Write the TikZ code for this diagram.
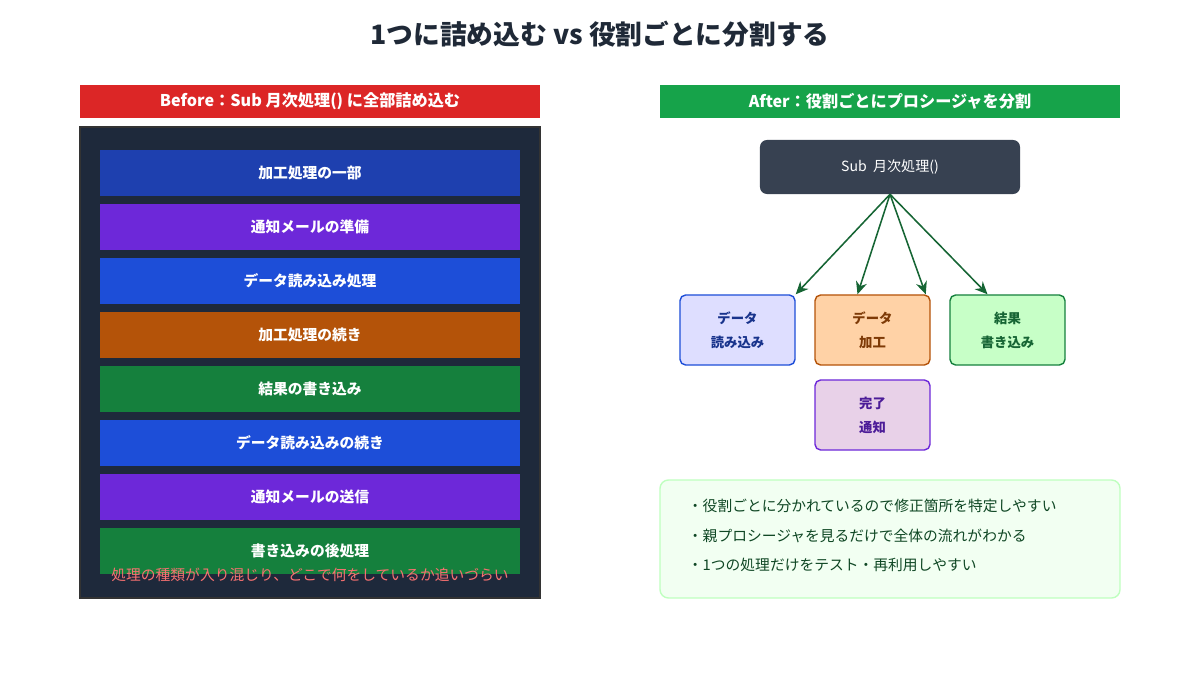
\documentclass[tikz,border=0pt]{standalone}
\usepackage{fontspec}
\setmainfont{Noto Sans CJK JP}
\usetikzlibrary{arrows.meta,positioning,calc}
\definecolor{titlegray}{RGB}{31,41,55}
\definecolor{beforered}{RGB}{220,38,38}
\definecolor{aftergreen}{RGB}{22,163,74}
\definecolor{panelbg}{RGB}{30,41,59}
\definecolor{bardeep}{RGB}{30,64,175}
\definecolor{barblue}{RGB}{29,78,216}
\definecolor{barpurple}{RGB}{109,40,217}
\definecolor{barorange}{RGB}{180,83,9}
\definecolor{bargreen}{RGB}{21,128,61}
\definecolor{subgray}{RGB}{55,65,81}
\definecolor{arrowgreen}{RGB}{22,101,52}
\definecolor{warnred}{RGB}{248,113,113}
\tikzset{
  % 見出し帯
  header/.style={minimum width=11.5cm, minimum height=0.825cm, inner sep=0pt,
    text=white, font=\fontsize{11.5}{13}\selectfont\bfseries},
  % 左側の処理バー
  bar/.style={minimum width=10.5cm, minimum height=1.15cm, inner sep=0pt,
    text=white, font=\fontsize{10.5}{12}\selectfont\bfseries},
  % 右側の子プロシージャ
  proc/.style={draw, line width=1pt, rounded corners=4pt, minimum width=2.875cm,
    minimum height=1.75cm, align=center, font=\fontsize{9.5}{17}\selectfont\bfseries},
  % 矢印
  arr/.style={-{Stealth[length=9pt,width=8pt]}, line width=1.1pt, arrowgreen},
  note/.style={anchor=west, text=arrowgreen!70!black, font=\fontsize{10.5}{12}\selectfont},
}
\begin{document}
\begin{tikzpicture}[x=0.025cm, y=-0.025cm]
  \useasboundingbox (0,0) rectangle (1200,675);

  % タイトル
  \node[text=titlegray, font=\fontsize{19}{22}\selectfont\bfseries] (title) at (600,34)
    {1つに詰め込む vs 役割ごとに分割する};

  % Before
  \node[header, fill=beforered] (beforehd) at (310,101.5) {Before：Sub 月次処理() に全部詰め込む};
  \fill[panelbg] (80,127) rectangle (540,598);
  \draw[black!80, line width=0.8pt] (80,127) rectangle (540,598);
  \foreach \y/\c/\t in {173/bardeep/加工処理の一部, 227/barpurple/通知メールの準備,
      281/barblue/データ読み込み処理, 335/barorange/加工処理の続き,
      389/bargreen/結果の書き込み, 443/barblue/データ読み込みの続き,
      497/barpurple/通知メールの送信, 551/bargreen/書き込みの後処理} {
    \node[bar, fill=\c] at (310,\y) {\t};
  }
  \node[text=warnred, font=\fontsize{10.5}{12}\selectfont] (warn) at (310,575)
    {処理の種類が入り混じり、どこで何をしているか追いづらい};

  % After
  \node[header, fill=aftergreen] (afterhd) at (890,101.5) {After：役割ごとにプロシージャを分割};
  \node[fill=subgray, text=white, rounded corners=5pt, minimum width=6.5cm, minimum height=1.35cm,
    font=\fontsize{10}{12}\selectfont] (sub) at (890,167) {Sub\ \ 月次処理()};

  \node[proc, draw=barblue, fill=blue!13, text=bardeep!80!black] (read) at (737.5,330) {データ\\読み込み};
  \node[proc, draw=barorange, fill=orange!35, text=barorange!70!black] (calc) at (872.5,330) {データ\\加工};
  \node[proc, draw=bargreen, fill=green!22, text=arrowgreen] (write) at (1007.5,330) {結果\\書き込み};
  \node[proc, draw=barpurple, fill=violet!18, text=barpurple!70!black] (notify) at (872.5,415) {完了\\通知};

  \draw[arr] (sub.south) -- (read.north east);
  \draw[arr] (sub.south) -- ($(calc.north)+(-15,0)$);
  \draw[arr] (sub.south) -- ($(calc.north east)+(-5,0)$);
  \draw[arr] (sub.south) -- ($(write.north)+(-20,0)$);

  % メモ
  \draw[draw=green!25, fill=green!5, line width=1pt, rounded corners=6pt] (660,480) rectangle (1120,598);
  \node[note] (n1) at (683,506) {・役割ごとに分かれているので修正箇所を特定しやすい};
  \node[note] (n2) at (683,536) {・親プロシージャを見るだけで全体の流れがわかる};
  \node[note] (n3) at (683,565) {・1つの処理だけをテスト・再利用しやすい};
\end{tikzpicture}
\end{document}
